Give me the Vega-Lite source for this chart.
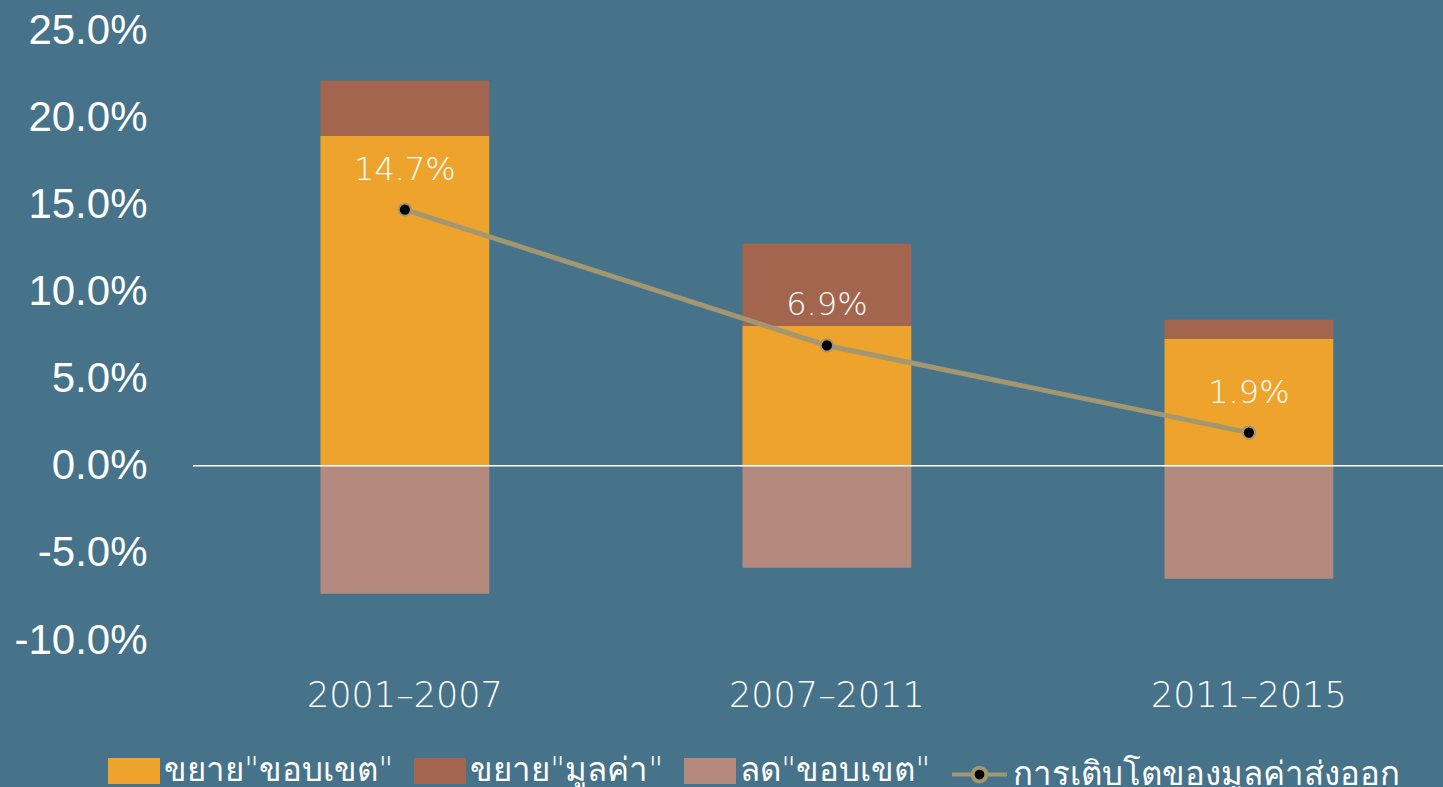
{
  "$schema": "https://vega.github.io/schema/vega-lite/v6.json",
  "autosize": "none",
  "width": 1250,
  "height": 610,
  "padding": {"left": 193, "top": 30, "right": 0, "bottom": 147},
  "background": "#467389",
  "config": {
    "view": {"stroke": null},
    "font": "DejaVu Sans"
  },
  "datasets": {
    "bars": [
      {"period": "2001–2007", "category": "ขยาย\"ขอบเขต\"", "order": 1, "value": 0.1893},
      {"period": "2001–2007", "category": "ขยาย\"มูลค่า\"", "order": 2, "value": 0.0316},
      {"period": "2001–2007", "category": "ลด\"ขอบเขต\"", "order": 3, "value": -0.0734},
      {"period": "2007–2011", "category": "ขยาย\"ขอบเขต\"", "order": 1, "value": 0.0803},
      {"period": "2007–2011", "category": "ขยาย\"มูลค่า\"", "order": 2, "value": 0.0471},
      {"period": "2007–2011", "category": "ลด\"ขอบเขต\"", "order": 3, "value": -0.0585},
      {"period": "2011–2015", "category": "ขยาย\"ขอบเขต\"", "order": 1, "value": 0.0729},
      {"period": "2011–2015", "category": "ขยาย\"มูลค่า\"", "order": 2, "value": 0.0109},
      {"period": "2011–2015", "category": "ลด\"ขอบเขต\"", "order": 3, "value": -0.0648}
    ],
    "growth": [
      {"period": "2001–2007", "series": "การเติบโตของมูลค่าส่งออก", "growth": 0.147},
      {"period": "2007–2011", "series": "การเติบโตของมูลค่าส่งออก", "growth": 0.069},
      {"period": "2011–2015", "series": "การเติบโตของมูลค่าส่งออก", "growth": 0.019}
    ]
  },
  "encoding": {
    "x": {
      "field": "period",
      "type": "nominal",
      "sort": null,
      "scale": {"paddingInner": 0.6, "paddingOuter": 0.281, "align": 0.5375},
      "axis": {
        "title": null,
        "labelAngle": 0,
        "domain": false,
        "ticks": false,
        "labelPadding": 38,
        "labelFontSize": 35,
        "labelFontWeight": 200,
        "labelLimit": 400,
        "labelColor": "#ffffff",
        "labelFont": "DejaVu Sans"
      }
    }
  },
  "layer": [
    {
      "data": {"name": "bars"},
      "mark": {"type": "bar"},
      "encoding": {
        "y": {
          "field": "value",
          "type": "quantitative",
          "stack": "zero",
          "scale": {"domain": [-0.1, 0.25], "nice": false, "zero": false},
          "axis": {
            "title": null,
            "values": [-0.1, -0.05, 0, 0.05, 0.1, 0.15, 0.2, 0.25],
            "labelExpr": "replace(format(datum.value, '.1%'), '−', '-')",
            "grid": false,
            "domain": false,
            "ticks": false,
            "labelPadding": 46,
            "labelFontSize": 42,
            "labelColor": "#ffffff",
            "labelFont": "Liberation Sans"
          }
        },
        "order": {"field": "order", "type": "quantitative"},
        "color": {
          "field": "category",
          "type": "nominal",
          "scale": {
            "domain": ["ขยาย\"ขอบเขต\"", "ขยาย\"มูลค่า\"", "ลด\"ขอบเขต\""],
            "range": ["#EEA32D", "#A4654E", "#B58A7E"]
          },
          "legend": {
            "title": null,
            "orient": "none",
            "direction": "horizontal",
            "legendX": -85,
            "legendY": 715,
            "symbolType": "M-1,-0.5H1V0.5H-1Z",
            "symbolSize": 2704,
            "symbolStrokeWidth": 0,
            "symbolOpacity": 1,
            "labelFontSize": 33,
            "labelColor": "#ffffff",
            "labelFontWeight": 200,
            "labelOffset": 4,
            "columnPadding": 20,
            "labelLimit": 400
          }
        }
      }
    },
    {
      "data": {"values": [{"zero": 0}]},
      "mark": {"type": "rule", "color": "#ffffff", "strokeWidth": 1.5},
      "encoding": {
        "y": {"field": "zero", "type": "quantitative"},
        "x": {"value": 0},
        "x2": {"value": 1250}
      }
    },
    {
      "data": {"name": "growth"},
      "mark": {"type": "line", "strokeWidth": 5},
      "encoding": {
        "y": {"field": "growth", "type": "quantitative"},
        "stroke": {
          "field": "series",
          "type": "nominal",
          "scale": {"range": ["#A29770"]},
          "legend": {
            "title": null,
            "orient": "none",
            "legendX": 757,
            "legendY": 715,
            "symbolType": "M-1,0H-0.25M0.25,0H1M-0.25,0A0.25,0.25 0 1,0 0.25,0A0.25,0.25 0 1,0 -0.25,0Z",
            "symbolSize": 3025,
            "symbolStrokeWidth": 4,
            "symbolFillColor": "#000000",
            "labelFontSize": 33,
            "labelColor": "#ffffff",
            "labelFontWeight": 200,
            "labelOffset": 4,
            "labelLimit": 500
          }
        }
      }
    },
    {
      "data": {"name": "growth"},
      "mark": {"type": "point", "filled": true, "color": "#000000", "stroke": "#A29770", "strokeWidth": 2, "size": 150, "opacity": 1},
      "encoding": {
        "y": {"field": "growth", "type": "quantitative"}
      }
    },
    {
      "data": {"name": "growth"},
      "mark": {"type": "text", "dy": -40, "fontSize": 32, "fontWeight": 200, "color": "#ffffff", "font": "DejaVu Sans"},
      "encoding": {
        "y": {"field": "growth", "type": "quantitative"},
        "text": {"field": "growth", "type": "quantitative", "format": ".1%"}
      }
    }
  ]
}
